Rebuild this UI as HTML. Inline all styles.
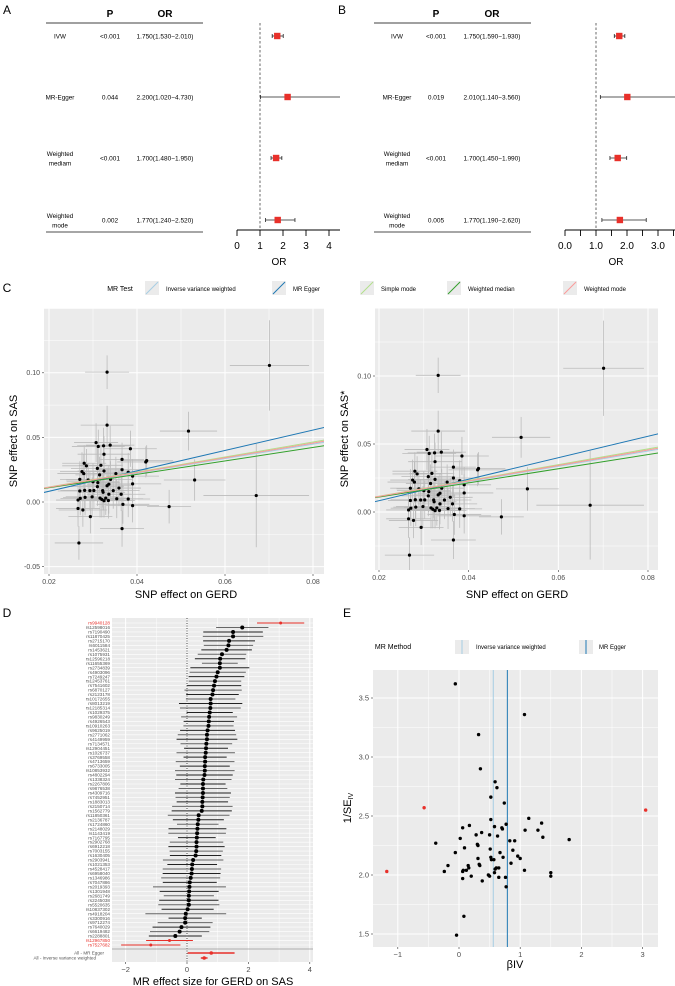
<!DOCTYPE html>
<html><head><meta charset="utf-8">
<style>
html,body{margin:0;padding:0;background:#fff;}
svg{display:block;font-family:"Liberation Sans",Arial,sans-serif;}
</style></head>
<body>
<svg id="fig" width="675" height="986" viewBox="0 0 675 986" xmlns="http://www.w3.org/2000/svg"></svg>
<script>
// ---------- DATA ----------
const forestMethods = ["IVW","MR-Egger","Weighted|mediam","Weighted|mode"];
const forestA_P = ["<0.001","0.044","<0.001","0.002"];
const forestA_OR = [1.75,2.20,1.70,1.77];
const forestA_lo = [1.53,1.02,1.48,1.24];
const forestA_hi = [2.01,4.73,1.95,2.52];
const forestB_P = ["<0.001","0.019","<0.001","0.005"];
const forestB_OR = [1.75,2.01,1.70,1.77];
const forestB_lo = [1.59,1.14,1.45,1.19];
const forestB_hi = [1.93,3.56,1.99,2.62];
const forestA_ticks = [0,1,2,3,4];
const forestB_ticks = [0,1,2,3];

// scatter (panel C)
const snpX = [0.0332,0.0701,0.0332,0.0517,0.0531,0.0671,0.0473,0.0366,0.0268,0.0385,0.042,0.0422,0.0339,0.0324,0.0307,0.0312,0.0325,0.0366,0.038,0.0366,0.0352,0.039,0.039,0.034,0.0318,0.031,0.0315,0.0325,0.028,0.0285,0.0275,0.027,0.0279,0.0289,0.03,0.0311,0.027,0.0281,0.0293,0.0302,0.0322,0.0346,0.0282,0.0298,0.0271,0.0266,0.031,0.0323,0.0329,0.0316,0.0320,0.0325,0.0335,0.0336,0.0359,0.0364,0.0368,0.038,0.039,0.0266,0.0277,0.0294,0.0332,0.0354,0.0336];
const snpY = [0.1005,0.1057,0.0595,0.0549,0.017,0.005,-0.0036,-0.0206,-0.0317,0.0412,0.031,0.032,0.044,0.0435,0.046,0.043,0.037,0.033,0.023,0.025,0.022,0.014,0.020,0.0175,0.0284,0.026,0.021,0.024,0.030,0.028,0.0235,0.0175,0.022,0.0170,0.0157,0.015,0.0085,0.009,0.0088,0.0089,0.0088,0.0088,0.0036,0.004,0.0028,0.0015,0.0119,0.0075,0.003,0.003,0.002,0.001,0.0012,0.006,0.0108,0.006,-0.0018,0.0023,-0.0028,-0.005,-0.0062,-0.0113,0.0126,0.0025,0.0138];
const snpSEx = [0.005,0.009,0.006,0.0065,0.007,0.012,0.005,0.005,0.0055,0.006,0.0065,0.006,0.0055,0.006,0.005,0.006,0.006,0.005,0.0055,0.006,0.005,0.0065,0.006,0.005,0.005,0.006,0.0055,0.006,0.005,0.0055,0.005,0.0045,0.006,0.005,0.006,0.005,0.005,0.0055,0.006,0.005,0.0055,0.006,0.005,0.006,0.0045,0.005,0.006,0.005,0.0055,0.006,0.005,0.0055,0.006,0.005,0.005,0.0055,0.006,0.005,0.006,0.005,0.0055,0.005,0.0055,0.006,0.005];
const snpSEy = [0.013,0.035,0.015,0.015,0.016,0.04,0.013,0.014,0.013,0.014,0.012,0.012,0.015,0.014,0.015,0.013,0.014,0.013,0.015,0.014,0.013,0.014,0.013,0.014,0.015,0.016,0.014,0.015,0.014,0.013,0.015,0.014,0.015,0.013,0.014,0.015,0.013,0.014,0.015,0.014,0.013,0.014,0.014,0.015,0.013,0.014,0.015,0.014,0.013,0.015,0.014,0.013,0.014,0.015,0.014,0.013,0.015,0.014,0.013,0.014,0.013,0.013,0.014,0.015,0.014];
const mrLineNames = ["Inverse variance weighted","MR Egger","Simple mode","Weighted median","Weighted mode"];
const mrLineSlopes = [0.56,0.79,0.58,0.52,0.57];
const mrLineIntercepts = [0,-0.0075,0,0.0006,0];
const mrLineColors = ["#a6cee3","#1f78b4","#b2df8a","#33a02c","#fb9a99"];
const scatterXTicks = [0.02,0.04,0.06,0.08];
const scatterYTicks = [-0.05,0,0.05,0.10];
const scatterYTicksR = [0,0.05,0.10];

// funnel / leave-one (panels D,E)
const ivBeta = [-0.06,1.07,0.32,0.35,0.59,0.62,0.52,0.74,-0.57,3.05,1.14,0.52,1.35,0.77,0.17,0.58,0.06,0.70,0.71,1.08,1.29,0.37,0.50,0.28,0.63,1.37,0.02,1.80,0.91,0.83,-0.38,0.30,0.31,0.09,0.51,0.88,0.67,-0.06,0.96,1.00,0.72,0.31,0.52,0.53,0.57,0.85,0.33,0.34,-0.18,0.15,0.16,0.61,0.65,0.59,1.07,0.07,0.12,-1.18,-0.24,0.06,0.58,1.50,1.50,0.48,0.50,0.20,0.65,0.76,0.06,0.38,0.77,0.08,-0.04];
const ivInvSE = [3.62,3.36,3.19,2.90,2.79,2.74,2.66,2.61,2.57,2.55,2.48,2.47,2.44,2.43,2.42,2.41,2.40,2.40,2.39,2.38,2.38,2.36,2.34,2.34,2.33,2.32,2.31,2.30,2.29,2.29,2.27,2.26,2.25,2.23,2.22,2.21,2.19,2.19,2.16,2.14,2.15,2.14,2.15,2.13,2.13,2.10,2.09,2.08,2.08,2.08,2.06,2.06,2.06,2.05,2.04,2.04,2.04,2.03,2.03,2.03,2.02,2.02,1.99,2.00,1.99,1.99,1.98,1.98,1.97,1.95,1.90,1.65,1.49];
const ivOutlier = [0,0,0,0,0,0,0,0,1,1,0,0,0,0,0,0,0,0,0,0,0,0,0,0,0,0,0,0,0,0,0,0,0,0,0,0,0,0,0,0,0,0,0,0,0,0,0,0,0,0,0,0,0,0,0,0,0,1,0,0,0,0,0,0,0,0,0,0,0,0,0,0,0];
const snpNames = ["rs9940128","rs12598016","rs7190490","rs11870425","rs2715170","rs6011584","rs1453621","rs1075931","rs12596218","rs11655369","rs2734839","rs4903096","rs7249247","rs12453761","rs7541602","rs6870127","rs2123178","rs10172655","rs8013219","rs12185314","rs1029375","rs9830249","rs4926543","rs10910263","rs9625019","rs2771062","rs4149959","rs7134571","rs12904451","rs1026737","rs3769558","rs4713659","rs6733005","rs10853932","rs4802294","rs1338324","rs2267806","rs9876538","rs4309716","rs7452951","rs1883013","rs2150714","rs1562779","rs11850361","rs2136787","rs1724860","rs2148029","rs1143419","rs7167795","rs2902768","rs6912218","rs7003155","rs1630405","rs2903941","rs1021353","rs4528417","rs6958040","rs1346986","rs7047886","rs2019393","rs1301948","rs2681749","rs2245038","rs5520635","rs10837302","rs4918204","rs3300916","rs9712274","rs7640029","rs6619482","rs2288801","rs12967850","rs7527682"];
const summaryNames = ["All - MR Egger","All - Inverse variance weighted"];
const summaryBeta = [0.79,0.56];
const summaryLo = [0.02,0.45];
const summaryHi = [1.55,0.67];
const dTicks = [-2,0,2,4];
const eXTicks = [-1,0,1,2,3];
const eYTicks = [1.5,2.0,2.5,3.0,3.5];

// ---------- helpers ----------
const NS="http://www.w3.org/2000/svg";
const svg=document.getElementById('fig');
function mk(tag,attrs,parent,text){const e=document.createElementNS(NS,tag);for(const k in attrs)e.setAttribute(k,attrs[k]);if(text!==undefined)e.textContent=text;(parent||svg).appendChild(e);return e;}
function grp(name){const g=mk('g',{});return g;}
function txt(p,x,y,s,size,opts){opts=opts||{};const t=mk('text',{x:x,y:y,'font-size':size,fill:opts.fill||'#000','text-anchor':opts.anchor||'middle','font-weight':opts.bold?'bold':'normal'},p,s);if(opts.rot)t.setAttribute('transform','rotate('+opts.rot+' '+x+' '+y+')');return t;}

// ---------- Forest panels ----------
function forest(ox,label,P,OR,lo,hi,ticks,x0,scale,tickStep,fmt,name){
  const g=grp(name);
  txt(g,ox+7,14,label,12,{anchor:'middle'});
  const c=ox==0?{lab:60,p:110,or:165,l1:46,l2:203}:{lab:397,p:436,or:492,l2:531,l1:374};
  txt(g,c.p,17,'P',10,{bold:1});txt(g,c.or,17,'OR',10,{bold:1});
  mk('line',{x1:c.l1,x2:c.l2,y1:23,y2:23,stroke:'#000','stroke-width':0.8},g);
  mk('line',{x1:c.l1,x2:c.l2,y1:232,y2:232,stroke:'#888','stroke-width':1.6},g);
  const rowsY=[36,97,158,220];
  const sx=v=>x0+scale*v;
  const right=ox==0?340:675;
  mk('line',{x1:sx(1),x2:sx(1),y1:23,y2:230,stroke:'#444','stroke-width':0.8,'stroke-dasharray':'2.5,2'},g);
  forestMethods.forEach((m,i)=>{
    const y=rowsY[i];const parts=m.split('|');
    if(parts.length==1)txt(g,c.lab,y+2.3,parts[0],6.3);
    else{txt(g,c.lab,y-2,parts[0],6.3);txt(g,c.lab,y+7.5,parts[1],6.3);}
    txt(g,c.p,y+2.3,P[i],6.5);
    txt(g,c.or,y+2.3,OR[i].toFixed(3)+'('+lo[i].toFixed(3)+'\u2212'+hi[i].toFixed(3)+')',6.5);
    const xh=Math.min(sx(hi[i]),right);
    mk('line',{x1:sx(lo[i]),x2:xh,y1:y,y2:y,stroke:'#222','stroke-width':0.8},g);
    mk('line',{x1:sx(lo[i]),x2:sx(lo[i]),y1:y-2,y2:y+2,stroke:'#222','stroke-width':0.8},g);
    if(sx(hi[i])<right)mk('line',{x1:xh,x2:xh,y1:y-2,y2:y+2,stroke:'#222','stroke-width':0.8},g);
    const r=mk('rect',{x:sx(OR[i])-3.2,y:y-3.2,width:6.4,height:6.4,fill:'#e8302a'},g);
    
  });
  mk('line',{x1:sx(0),x2:right,y1:230,y2:230,stroke:'#000','stroke-width':0.9},g);
  for(let v=0;sx(v)<=right+0.5;v+=tickStep)mk('line',{x1:sx(v),x2:sx(v),y1:230,y2:236,stroke:'#000','stroke-width':0.9},g);
  ticks.forEach(v=>txt(g,sx(v),249,fmt(v),10));
  txt(g,ox==0?279:616,265,'OR',10);
}
forest(0,'A',forestA_P,forestA_OR,forestA_lo,forestA_hi,forestA_ticks,237,23,1,v=>String(v),'forest-panel-a');
forest(335,'B',forestB_P,forestB_OR,forestB_lo,forestB_hi,forestB_ticks,565,31,0.5,v=>v.toFixed(1),'forest-panel-b');

// ---------- Panel C legend ----------
{const g=grp('scatter-legend');
 txt(g,7,292,'C',12);
 txt(g,120,291,'MR Test',7);
 const kx=[145,272,360,447,563];const tx=[166,293,381,468,584];
 mrLineNames.forEach((n,i)=>{
  mk('rect',{x:kx[i],y:281,width:14,height:14,fill:'#ebebeb'},g);
  mk('line',{x1:kx[i]+1,y1:294,x2:kx[i]+13,y2:282,stroke:mrLineColors[i],'stroke-width':1},g);
  const t=txt(g,tx[i],291,n,6,{anchor:'start'});
  
 });}

// ---------- Panel C scatter ----------
function scatter(name,px,py,pw,ph,x0px,xs,y0px,ys,yTicks,ytitle,titleX){
  const g=grp(name);
  const X=v=>x0px+(v-0.02)*xs, Y=v=>y0px-v*ys;
  mk('rect',{x:px,y:py,width:pw,height:ph,fill:'#ebebeb'},g);
  const clip=mk('clipPath',{id:'clip'+name},g);mk('rect',{x:px,y:py,width:pw,height:ph},clip);
  const inner=mk('g',{'clip-path':'url(#clip'+name+')'},g);
  for(let v=0.01;v<=0.09;v+=0.01){const major=Math.round(v*100)%2==0;mk('line',{x1:X(v),x2:X(v),y1:py,y2:py+ph,stroke:'#fff','stroke-width':major?1:0.5},inner);}
  for(let v=-0.075;v<=0.15;v+=0.025){const major=Math.abs(Math.round(v*1000)%50)<1;mk('line',{x1:px,x2:px+pw,y1:Y(v),y2:Y(v),stroke:'#fff','stroke-width':major?1:0.5},inner);}
  snpX.forEach((x,i)=>{
    mk('line',{x1:X(x-snpSEx[i]),x2:X(x+snpSEx[i]),y1:Y(snpY[i]),y2:Y(snpY[i]),stroke:'#bbb','stroke-width':0.8},inner);
    mk('line',{x1:X(x),x2:X(x),y1:Y(snpY[i]-snpSEy[i]),y2:Y(snpY[i]+snpSEy[i]),stroke:'#bbb','stroke-width':0.8},inner);
  });
  snpX.forEach((x,i)=>{const c=mk('circle',{cx:X(x),cy:Y(snpY[i]),r:1.6,fill:'#000'},inner);});
  mrLineSlopes.forEach((s,i)=>{const a=0.015,b=0.085;const l=mk('line',{x1:X(a),y1:Y(mrLineIntercepts[i]+s*a),x2:X(b),y2:Y(mrLineIntercepts[i]+s*b),stroke:mrLineColors[i],'stroke-width':1},inner);});
  scatterXTicks.forEach(v=>{mk('line',{x1:X(v),x2:X(v),y1:py+ph,y2:py+ph+2,stroke:'#333','stroke-width':0.6},g);txt(g,X(v),py+ph+10,v.toFixed(2),7,{fill:'#4d4d4d'});});
  yTicks.forEach(v=>{mk('line',{x1:px-2,x2:px,y1:Y(v),y2:Y(v),stroke:'#333','stroke-width':0.6},g);txt(g,px-4,Y(v)+2.4,v.toFixed(2),7,{fill:'#4d4d4d',anchor:'end'});});
  txt(g,px-27,py+ph/2,ytitle,11,{rot:-90});
  txt(g,titleX,598,'SNP effect on GERD',11);
}
scatter('scatter-sas',44,308,280,266,49,4400,502,1292,scatterYTicks,'SNP effect on SAS',186);
scatter('scatter-sas-star',375,308,283,262,379,4483,512,1360,scatterYTicksR,'SNP effect on SAS*',517);

// ---------- Panel D ----------
{const g=grp('leave-one-out-forest');
 txt(g,7,617,'D',12);
 const X=v=>187+30.7*v;
 const px=112,pw=201,py=618,ph=344;
 mk('rect',{x:px,y:py,width:pw,height:ph,fill:'#ebebeb'},g);
 [-3,-1,1,3].forEach(v=>mk('line',{x1:X(v),x2:X(v),y1:py,y2:py+ph,stroke:'#fff','stroke-width':0.5},g));
 dTicks.forEach(v=>mk('line',{x1:X(v),x2:X(v),y1:py,y2:py+ph,stroke:'#fff','stroke-width':1},g));
 const order=ivBeta.map((b,i)=>i).sort((a,b)=>ivBeta[b]-ivBeta[a]);
 const n=order.length, y0=623, pitch=(945-623)/(n-1);
 order.forEach((idx,k)=>{const y=y0+k*pitch;mk('line',{x1:px,x2:px+pw,y1:y,y2:y,stroke:'#fff','stroke-width':0.6},g);});
 mk('line',{x1:X(0),x2:X(0),y1:py,y2:py+ph,stroke:'#000','stroke-width':0.7,'stroke-dasharray':'1,1.5'},g);
 order.forEach((idx,k)=>{
  const y=y0+k*pitch;const red=ivOutlier[idx]==1;const col=red?'#e8302a':'#000';
  const hw=1.96/ivInvSE[idx];
  mk('line',{x1:X(ivBeta[idx]-hw),x2:X(ivBeta[idx]+hw),y1:y,y2:y,stroke:red?'#e8302a':(k%2?'#666':'#222'),'stroke-width':1},g);
  const c=mk('circle',{cx:X(ivBeta[idx]),cy:y,r:red?1.5:2,fill:col},g);
  
  txt(g,110,y+1.6,snpNames[k]||'rs',4.6,{anchor:'end',fill:red?'#e8302a':'#555'});
 });
 mk('line',{x1:px,x2:px+pw,y1:949,y2:949,stroke:'#999','stroke-width':0.7},g);
 const sy=[953,958];
 summaryBeta.forEach((b,i)=>{
  mk('line',{x1:X(summaryLo[i]),x2:X(summaryHi[i]),y1:sy[i],y2:sy[i],stroke:'#e8302a','stroke-width':1.5},g);
  mk('circle',{cx:X(b),cy:sy[i],r:1.8,fill:'#e8302a'},g);
  txt(g,i==0?104:96,sy[i]+1.6,summaryNames[i],4.6,{anchor:'end',fill:'#555'});
 });
 dTicks.forEach(v=>{mk('line',{x1:X(v),x2:X(v),y1:py+ph,y2:py+ph+2,stroke:'#333','stroke-width':0.6},g);txt(g,X(v),py+ph+10,v==-2?'\u22122':String(v),7.5,{fill:'#4d4d4d'});});
 txt(g,213,985,'MR effect size for GERD on SAS',11);
}

// ---------- Panel E ----------
{const g=grp('funnel-plot');
 txt(g,347,617,'E',12);
 txt(g,393,649,'MR Method',7);
 mk('rect',{x:455,y:640,width:14,height:14,fill:'#ebebeb'},g);
 mk('line',{x1:462,x2:462,y1:640,y2:654,stroke:'#a6cee3','stroke-width':1},g);
 txt(g,476,649,'Inverse variance weighted',6,{anchor:'start'});
 mk('rect',{x:579,y:640,width:14,height:14,fill:'#ebebeb'},g);
 mk('line',{x1:586,x2:586,y1:640,y2:654,stroke:'#1f78b4','stroke-width':1},g);
 txt(g,599,649,'MR Egger',6,{anchor:'start'});
 const px=373,pw=285,py=670,ph=277;
 const X=v=>459+61.2*v, Y=v=>698-(v-3.5)*118;
 mk('rect',{x:px,y:py,width:pw,height:ph,fill:'#ebebeb'},g);
 [-0.5,0.5,1.5,2.5].forEach(v=>mk('line',{x1:X(v),x2:X(v),y1:py,y2:py+ph,stroke:'#fff','stroke-width':0.5},g));
 [1.75,2.25,2.75,3.25].forEach(v=>mk('line',{x1:px,x2:px+pw,y1:Y(v),y2:Y(v),stroke:'#fff','stroke-width':0.5},g));
 eXTicks.forEach(v=>mk('line',{x1:X(v),x2:X(v),y1:py,y2:py+ph,stroke:'#fff','stroke-width':1},g));
 eYTicks.forEach(v=>mk('line',{x1:px,x2:px+pw,y1:Y(v),y2:Y(v),stroke:'#fff','stroke-width':1},g));
 mk('line',{x1:X(summaryBeta[1]),x2:X(summaryBeta[1]),y1:py,y2:py+ph,stroke:'#a6cee3','stroke-width':1},g);
 mk('line',{x1:X(summaryBeta[0]),x2:X(summaryBeta[0]),y1:py,y2:py+ph,stroke:'#1f78b4','stroke-width':1},g);
 ivBeta.forEach((b,i)=>{const c=mk('circle',{cx:X(b),cy:Y(ivInvSE[i]),r:1.7,fill:ivOutlier[i]?'#e8302a':'#000'},g);});
 eXTicks.forEach(v=>{mk('line',{x1:X(v),x2:X(v),y1:py+ph,y2:py+ph+2,stroke:'#333','stroke-width':0.6},g);txt(g,X(v),py+ph+10,v<0?'\u2212'+(-v):String(v),7.5,{fill:'#4d4d4d'});});
 eYTicks.forEach(v=>{mk('line',{x1:px-2,x2:px,y1:Y(v),y2:Y(v),stroke:'#333','stroke-width':0.6},g);txt(g,px-4,Y(v)+2.6,v.toFixed(1),7.5,{fill:'#4d4d4d',anchor:'end'});});
 const t=mk('text',{x:351,y:808,'font-size':11,'text-anchor':'middle',transform:'rotate(-90 351 808)'},g);
 t.appendChild(document.createTextNode('1/SE'));
 const sub=mk('tspan',{'font-size':7,dy:2},t,'IV');
 txt(g,515,968,'\u03B2IV',11);
}
</script>
</body></html>
